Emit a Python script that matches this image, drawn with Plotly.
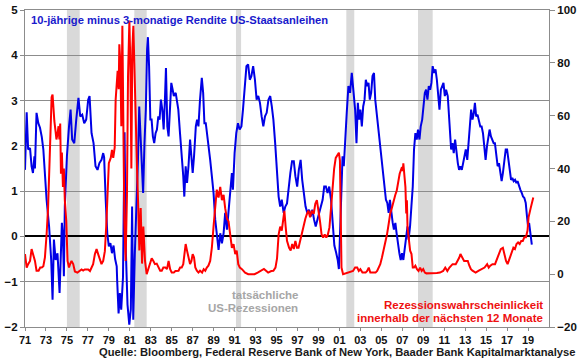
import plotly.graph_objects as go

# ---- data ----
spread_year = [1971.0,1971.16,1971.3,1971.48,1971.63,1971.76,1971.9,1971.95,1972.1,1972.27,1972.43,1972.6,1972.75,1972.9,
1973.06,1973.3,1973.5,1973.63,1973.76,1973.92,1974.1,1974.3,1974.43,1974.52,1974.62,1974.71,1974.8,1975.0,1975.2,1975.35,
1975.5,1975.7,1975.89,1976.1,1976.27,1976.46,1976.65,1976.84,1977.03,1977.16,1977.35,1977.54,1977.73,1977.92,1978.1,1978.3,
1978.46,1978.55,1978.7,1978.85,1979.0,1979.15,1979.3,1979.45,1979.6,1979.75,1979.8,1979.93,1980.05,1980.18,1980.35,1980.5,
1980.62,1980.78,1980.95,1981.1,1981.22,1981.33,1981.48,1981.63,1981.78,1981.9,1982.02,1982.15,1982.27,1982.4,1982.53,1982.65,
1982.73,1982.84,1982.96,1983.08,1983.2,1983.33,1983.46,1983.59,1983.72,1983.84,1983.97,1984.1,1984.23,1984.35,1984.45,1984.58,
1984.7,1984.83,1984.96,1985.09,1985.2,1985.38,1985.5,1985.63,1985.79,1985.95,1986.1,1986.2,1986.33,1986.46,1986.6,1986.75,
1986.88,1987.0,1987.13,1987.3,1987.42,1987.55,1987.7,1987.87,1988.0,1988.12,1988.25,1988.38,1988.5,1988.67,1988.83,1988.99,
1989.15,1989.3,1989.47,1989.63,1989.79,1989.95,1990.1,1990.27,1990.42,1990.58,1990.74,1990.84,1991.0,1991.16,1991.32,1991.48,
1991.65,1991.8,1991.97,1992.13,1992.29,1992.45,1992.6,1992.77,1992.94,1993.1,1993.26,1993.42,1993.58,1993.74,1993.9,1994.06,
1994.23,1994.4,1994.55,1994.7,1994.87,1995.03,1995.2,1995.35,1995.5,1995.68,1995.84,1996.0,1996.16,1996.32,1996.48,1996.65,
1996.8,1996.97,1997.13,1997.3,1997.45,1997.6,1997.77,1997.94,1998.1,1998.26,1998.42,1998.58,1998.74,1998.9,1999.06,1999.23,
1999.4,1999.55,1999.71,1999.87,2000.03,2000.2,2000.35,2000.52,2000.68,2000.84,2000.95,2001.05,2001.16,2001.3,2001.42,2001.54,
2001.7,2001.86,2002.02,2002.18,2002.34,2002.5,2002.63,2002.76,2002.88,2003.0,2003.14,2003.27,2003.4,2003.52,2003.65,2003.78,
2003.9,2004.03,2004.16,2004.3,2004.42,2004.55,2004.67,2004.8,2004.93,2005.06,2005.18,2005.31,2005.44,2005.57,2005.7,2005.82,
2005.95,2006.08,2006.2,2006.34,2006.46,2006.6,2006.72,2006.85,2006.97,2007.1,2007.23,2007.36,2007.5,2007.6,2007.74,2007.87,
2008.0,2008.12,2008.25,2008.38,2008.5,2008.64,2008.76,2008.9,2009.02,2009.15,2009.27,2009.4,2009.53,2009.66,2009.78,2009.9,
2010.04,2010.17,2010.3,2010.42,2010.55,2010.68,2010.8,2010.93,2011.06,2011.18,2011.34,2011.47,2011.6,2011.66,2011.79,2011.91,
2012.04,2012.17,2012.3,2012.42,2012.55,2012.68,2012.81,2012.94,2013.06,2013.2,2013.32,2013.45,2013.57,2013.7,2013.83,2013.93,
2014.05,2014.18,2014.31,2014.44,2014.57,2014.7,2014.82,2014.95,2015.08,2015.2,2015.33,2015.46,2015.59,2015.72,2015.84,2015.97,
2016.1,2016.23,2016.35,2016.48,2016.6,2016.74,2016.87,2017.0,2017.12,2017.25,2017.38,2017.5,2017.63,2017.76,2017.89,2018.0,
2018.14,2018.27,2018.4,2018.52,2018.65,2018.78,2018.9,2019.0,2019.1,2019.2,2019.3,2019.36]
spread_value = [1.47,2.74,1.92,1.95,1.55,1.40,1.77,1.5,2.73,2.5,2.4,2.2,1.92,1.33,
0.81,0.22,-0.52,-1.4,-0.07,-0.52,-0.37,-1.25,-0.37,0.3,0.0,-0.88,0.66,1.77,2.43,2.8,
2.14,2.06,2.58,3.06,2.65,2.69,2.5,2.58,3.02,3.1,2.28,2.06,1.55,1.47,1.62,1.69,
1.84,1.75,0.81,0.07,-0.22,-0.15,-0.37,-0.2,-0.5,-0.66,-1.0,-1.7,-1.25,-1.62,-0.9,2.3,
-0.3,-1.5,-1.95,-1.6,0.66,-1.84,-0.37,0.52,1.7,2.87,2.14,1.4,0.96,2.06,2.8,4.13,
4.4,3.76,2.58,2.58,2.21,2.06,2.28,2.36,2.65,2.58,3.02,2.8,2.36,3.02,3.72,2.43,
2.21,2.8,3.39,3.24,3.1,3.17,2.95,2.8,2.28,1.84,1.33,0.88,1.55,1.18,1.55,2.14,
1.69,1.4,1.77,2.43,2.58,2.43,3.02,3.5,3.17,2.5,2.5,2.28,1.99,1.69,1.33,0.96,
0.37,0.07,-0.3,0.07,-0.15,0.07,0.52,0.15,0.52,0.96,1.4,1.03,1.84,2.28,2.5,2.36,
2.43,2.8,3.32,3.76,3.8,3.46,3.54,3.76,3.46,3.02,3.1,2.95,2.65,2.43,2.65,2.73,
3.02,3.1,2.87,2.58,2.06,1.4,0.88,0.66,0.81,0.52,0.66,0.73,1.1,1.4,1.66,1.66,
1.33,1.1,1.47,1.69,1.25,0.97,0.66,0.52,0.59,0.44,0.59,0.37,0.22,0.37,0.52,0.66,
0.81,1.1,1.1,0.96,1.1,0.81,0.24,-0.2,-0.35,-0.52,-0.72,0.07,0.96,1.77,1.55,2.14,
2.73,3.32,3.17,3.61,3.1,2.8,2.06,2.95,2.58,2.8,2.43,2.87,3.02,3.46,3.32,3.39,
3.02,3.17,3.54,3.61,3.02,2.73,2.43,2.14,1.92,1.62,1.25,1.03,0.81,0.74,0.52,0.81,
0.52,0.31,0.15,0.3,0.07,-0.22,-0.37,-0.52,-0.37,-0.52,-0.3,0.0,0.22,-0.07,0.22,0.66,
1.1,1.92,2.28,2.14,2.36,2.14,2.43,2.58,2.87,3.17,3.24,3.02,3.32,3.24,3.39,3.76,
3.61,3.69,3.46,3.02,2.8,3.24,3.32,3.39,3.1,3.24,3.1,2.65,2.28,1.92,2.06,1.84,
2.14,1.84,1.62,1.47,1.55,1.47,1.62,1.77,1.92,1.69,2.06,2.58,2.8,2.58,2.73,2.95,
2.65,2.69,2.58,2.43,2.43,2.28,2.0,1.69,1.99,2.14,2.36,2.21,2.14,2.06,2.06,1.77,
1.55,1.62,1.4,1.22,1.4,1.69,1.92,1.92,1.69,1.4,1.25,1.29,1.22,1.25,1.18,1.22,
1.1,1.03,0.96,0.88,0.85,0.74,0.44,0.22,0.3,0.07,-0.15,-0.18]

prob_year = [1971.0,1971.16,1971.3,1971.48,1971.63,1971.76,1971.95,1972.1,1972.3,1972.45,1972.6,1972.75,1972.9,1973.06,
1973.2,1973.38,1973.54,1973.63,1973.7,1973.8,1973.92,1974.0,1974.1,1974.2,1974.28,1974.36,1974.43,1974.52,1974.62,1974.71,
1974.8,1974.94,1975.06,1975.2,1975.3,1975.44,1975.6,1975.76,1976.0,1976.2,1976.4,1976.55,1976.7,1976.85,1977.03,1977.2,
1977.35,1977.5,1977.67,1977.83,1977.98,1978.15,1978.3,1978.46,1978.62,1978.75,1978.87,1979.0,1979.18,1979.3,1979.42,1979.56,
1979.65,1979.75,1979.84,1979.94,1980.0,1980.1,1980.19,1980.29,1980.38,1980.48,1980.6,1980.73,1980.83,1980.96,1981.05,1981.15,
1981.24,1981.34,1981.43,1981.56,1981.69,1981.81,1981.91,1982.04,1982.17,1982.29,1982.45,1982.61,1982.77,1982.93,1983.09,1983.25,
1983.4,1983.57,1983.75,1983.9,1984.05,1984.2,1984.4,1984.55,1984.7,1984.85,1985.0,1985.2,1985.35,1985.5,1985.65,1985.8,
1985.95,1986.1,1986.2,1986.33,1986.46,1986.6,1986.75,1986.88,1987.0,1987.13,1987.25,1987.4,1987.55,1987.7,1987.9,1988.05,
1988.2,1988.35,1988.5,1988.67,1988.83,1988.99,1989.16,1989.3,1989.47,1989.63,1989.79,1989.95,1990.1,1990.27,1990.42,1990.58,
1990.74,1990.9,1991.06,1991.2,1991.35,1991.5,1991.7,1992.0,1992.3,1992.6,1992.9,1993.2,1993.5,1993.8,1994.0,1994.2,
1994.5,1994.7,1994.9,1995.05,1995.2,1995.35,1995.5,1995.65,1995.75,1995.87,1996.0,1996.2,1996.35,1996.5,1996.65,1996.8,
1996.95,1997.1,1997.25,1997.4,1997.55,1997.75,1997.9,1998.05,1998.2,1998.35,1998.55,1998.7,1998.85,1999.0,1999.15,1999.3,
1999.45,1999.6,1999.75,1999.9,2000.05,2000.2,2000.35,2000.5,2000.65,2000.83,2000.95,2001.05,2001.12,2001.2,2001.35,2001.6,
2002.0,2002.3,2002.5,2002.7,2002.85,2003.0,2003.2,2003.5,2003.65,2003.8,2003.95,2004.2,2004.45,2004.6,2004.75,2004.9,
2005.06,2005.22,2005.38,2005.54,2005.7,2005.85,2006.0,2006.15,2006.33,2006.47,2006.6,2006.75,2006.97,2007.05,2007.1,2007.2,
2007.3,2007.38,2007.44,2007.5,2007.62,2007.75,2007.88,2008.0,2008.12,2008.25,2008.4,2008.55,2008.7,2008.85,2009.0,2009.15,
2009.3,2009.6,2009.95,2010.3,2010.6,2010.9,2011.1,2011.3,2011.5,2011.8,2012.1,2012.3,2012.44,2012.55,2012.7,2012.9,
2013.1,2013.25,2013.4,2013.55,2013.7,2014.0,2014.3,2014.6,2014.85,2015.1,2015.25,2015.4,2015.6,2015.85,2016.1,2016.25,
2016.4,2016.6,2016.75,2016.9,2017.05,2017.25,2017.45,2017.6,2017.75,2017.9,2018.05,2018.2,2018.35,2018.5,2018.65,2018.8,
2018.95,2019.05,2019.25,2019.5]
prob_value = [7.6,2.5,3.8,5,9.5,7.6,5,1.3,1.3,2.5,2.5,3,6.3,15,
25,47,67,68,62,58,54,51,53,56,51,57,38,46,33,40,
28,20,5,2.5,3.8,5,3.8,1,0.6,1.2,1.8,1.4,1.8,1.8,1.8,1.2,
2.5,3.8,7.6,9.5,7.6,5.7,3.8,5,8.7,18,33,42,44,47,44,48,
66,73,77,70,87,80,56,94,53,20,5,30,75,96,80,40,
85,94,80,55,40,25,9,25,4,18,5,0,2,3.8,6,5,
3.8,4,2.5,1.3,1.3,2.5,2.5,1.9,5,1.9,0.6,0.6,1.2,1.3,1.3,2.5,
2.5,3.8,7.6,11.4,8.9,6.3,3.8,5,7.6,6.3,2.5,1.3,0.6,1.3,0.6,1.9,
1.3,2.5,3.2,5,10,18,28,32,29,33,28,30,25,21,20,15,
10,11.4,7.6,8.9,3.8,2.5,1.9,0.6,0,0,0,0.6,1.3,2,1.3,0.6,
1.2,1.3,2.5,6,15,18,16.5,21,24,18,12.6,10,9,11.4,9.5,12.6,
10,10,12.6,16,17.7,21,22.8,24,21.5,24,22.8,26.6,28,22.8,20,15,
13.9,15,13.9,15,17.7,25,33,40,44,45.6,46,43,22,2.5,0,0.3,
0.6,1.2,2.5,2.5,1.2,1.9,0.6,0.6,1.2,2.5,0.6,0.6,0.6,1.2,2.5,3.8,
6.3,8.9,11.4,15,19,23,25,27.8,30,31.6,35,38,40.5,39,42,38,
33,23,28,17.7,12.6,8.9,7.6,2.5,2.5,3.2,1.9,1.2,2.5,1.2,1.9,0.6,
0.3,0.3,0.4,0.4,0.6,1.2,2.5,1.2,2.5,3.8,3.8,5,6.3,7.6,6.3,5,
5,5,3.2,1.9,1.3,0.6,1.3,1.9,2.5,3.8,2.5,3.2,3.8,3.8,6.3,7.6,
9.5,10,7.6,5,3.8,6.3,8.9,10,9.5,11.4,12,11.4,12.6,12.6,14,14,
16.5,21.5,25,29]

recession_start = [1975.0, 1981.43, 1991.13, 2001.66, 2008.5]
recession_end = [1976.22, 1982.61, 1991.62, 2002.42, 2009.9]

tick_years = list(range(1971, 2020, 2))
tick_labels = [f"{y % 100:02d}" for y in tick_years]

BLUE = "#0000e6"
RED = "#ff0000"
GRID = "#8c8c8c"
FONT = "Liberation Sans, Arial, sans-serif"

fig = go.Figure()
for s, e in zip(recession_start, recession_end):
    fig.add_shape(type="rect", xref="x", yref="paper", x0=s, x1=e, y0=0, y1=1,
                  fillcolor="#d9d9d9", line_width=0, layer="below")

fig.add_trace(go.Scatter(x=spread_year, y=spread_value, mode="lines",
                         line=dict(color=BLUE, width=2), yaxis="y", showlegend=False))
fig.add_trace(go.Scatter(x=prob_year, y=prob_value, mode="lines",
                         line=dict(color=RED, width=2), yaxis="y2", showlegend=False))

tickfont = dict(family=FONT, size=11.5, color="#111111", weight="bold")
xtickfont = dict(family=FONT, size=11, color="#111111", weight="bold")
fig.update_layout(
    width=580, height=359,
    margin=dict(l=25, r=31, t=10, b=32),
    paper_bgcolor="white", plot_bgcolor="white",
    font=dict(family=FONT),
    xaxis=dict(range=[1971, 2021], tickvals=tick_years, ticktext=tick_labels, automargin=False,
               showgrid=False, zeroline=False, showline=True, linecolor=GRID, linewidth=1,
               mirror=True, ticks="outside", ticklen=3, tickcolor=GRID, tickfont=xtickfont),
    yaxis=dict(range=[-2, 5], dtick=1, showgrid=True, gridcolor=GRID, gridwidth=1, automargin=False,
               zeroline=True, zerolinecolor="black", zerolinewidth=2,
               showline=True, linecolor=GRID, mirror=True, ticks="outside", ticklen=4,
               tickcolor=GRID, tickfont=tickfont),
    yaxis2=dict(range=[-20, 100], dtick=20, overlaying="y", side="right", showgrid=False,
                automargin=False, zeroline=False, showline=False, ticks="outside", ticklen=5,
                tickcolor=GRID, tickfont=tickfont),
)

def ann(text, x, y, color, xanchor, size=11.5):
    fig.add_annotation(text=text, xref="paper", yref="paper", x=x, y=y, showarrow=False,
                       xanchor=xanchor, yanchor="middle",
                       font=dict(family=FONT, size=size, color=color, weight="bold"))

W, H = 524.0, 317.0
px = lambda p: (p - 25) / W
py = lambda p: (327 - p) / H
ann("10-jährige minus 3-monatige Rendite US-Staatsanleihen", px(29), py(19.5), "#1a1acc", "left", 11.2)
ann("tatsächliche", px(300), py(295), "#a6a6a6", "right")
ann("US-Rezessionen", px(300), py(307.5), "#a6a6a6", "right")
ann("Rezessionswahrscheinlickeit", px(545), py(305), "#ee1111", "right")
ann("innerhalb der nächsten 12 Monate", px(545), py(318), "#ee1111", "right")
ann("Quelle: Bloomberg, Federal Reserve Bank of New York, Baader Bank Kapitalmarktanalyse",
    px(577), py(352), "#1a1a1a", "right", 11.2)

fig.write_html("out.html", config={"displayModeBar": False},
               post_script="document.body.style.margin='0px';document.body.style.padding='0px';")
